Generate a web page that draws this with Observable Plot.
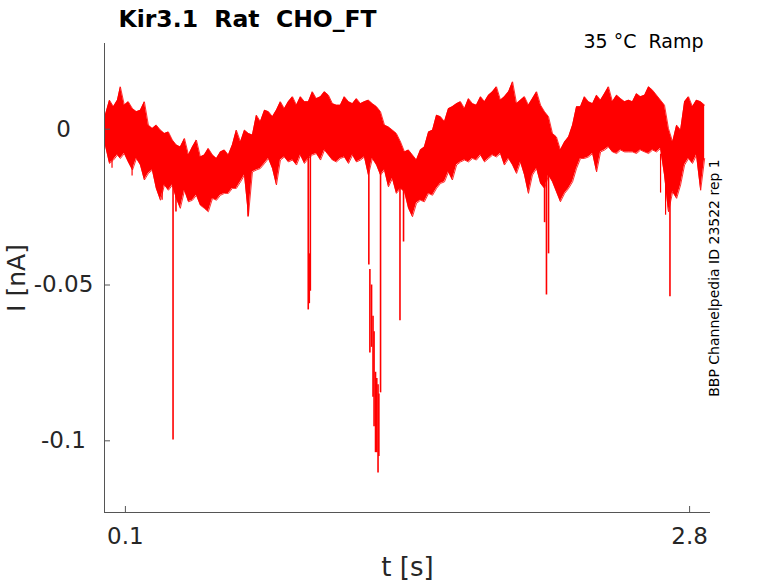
<!DOCTYPE html>
<html><head><meta charset="utf-8">
<script src="https://cdn.jsdelivr.net/npm/d3@7"></script>
<script src="https://cdn.jsdelivr.net/npm/@observablehq/plot@0.6"></script>
<style>body{margin:0;background:#fff} svg text{white-space:pre}</style>
</head><body><div id="chart"></div>
<script>
// Envelope of the noisy current trace, read every ~4 px (t in s, current in nA)
const t = [0.004,0.024,0.043,0.062,0.076,0.095,0.114,0.134,0.153,0.172,0.191,0.210,0.229,0.248,0.268,0.287,0.306,0.325,0.344,0.363,
  0.383,0.402,0.421,0.440,0.459,0.478,0.497,0.517,0.536,0.555,0.574,0.593,0.612,0.631,0.651,0.670,0.689,0.708,0.727,0.746,
  0.766,0.785,0.804,0.823,0.842,0.861,0.880,0.900,0.919,0.938,0.957,
  0.976,0.995,1.014,1.034,1.053,1.072,1.091,1.110,1.129,1.148,1.168,1.187,1.206,1.225,1.244,1.263,1.282,1.302,1.321,1.340,
  1.359,1.378,1.397,1.417,1.436,1.455,1.474,1.493,1.512,1.531,1.551,1.570,1.589,1.608,1.627,1.646,1.665,1.685,1.704,1.723,
  1.742,1.761,1.780,1.800,1.819,1.838,1.857,1.876,1.895,1.914,
  1.934,1.953,1.972,1.991,2.010,2.029,2.048,2.068,2.087,2.106,2.125,2.144,2.163,2.182,2.202,2.221,2.240,2.259,2.278,2.297,
  2.316,2.336,2.355,2.374,2.393,2.412,2.431,2.451,2.470,2.489,2.508,2.527,2.546,2.565,2.585,2.604,2.623,2.642,2.661,2.680,
  2.699,2.719,2.738,2.757,2.776,2.795,2.814,2.833,2.853,2.872];
const upperEdge = [0.0045,0.0093,0.0072,0.0093,0.0136,0.0077,0.0088,0.0066,0.0056,0.0061,0.0088,0.0013,0.0002,0.0013,-0.0003,-0.0014,-0.0009,-0.0035,-0.0051,-0.0057,
  -0.0030,-0.0083,-0.0057,-0.0035,-0.0089,-0.0083,-0.0062,-0.0083,-0.0094,-0.0073,-0.0067,-0.0083,-0.0051,-0.0003,-0.0041,-0.0003,-0.0014,-0.0019,0.0045,0.0024,
  0.0061,0.0056,0.0040,0.0061,0.0088,0.0066,0.0088,0.0104,0.0077,0.0104,0.0088,
  0.0088,0.0120,0.0098,0.0104,0.0120,0.0109,0.0082,0.0077,0.0077,0.0104,0.0088,0.0082,0.0098,0.0082,0.0088,0.0093,0.0082,0.0072,0.0056,0.0013,
  0.0007,-0.0003,-0.0014,-0.0041,-0.0073,-0.0067,-0.0083,-0.0099,-0.0067,-0.0057,-0.0009,-0.0003,0.0045,0.0040,0.0024,0.0066,0.0072,0.0082,0.0088,0.0066,
  0.0098,0.0082,0.0077,0.0104,0.0088,0.0109,0.0120,0.0136,0.0093,0.0104,
  0.0120,0.0152,0.0082,0.0093,0.0104,0.0077,0.0098,0.0120,0.0077,0.0056,0.0040,-0.0014,-0.0025,-0.0067,-0.0041,-0.0025,0.0013,0.0072,0.0072,0.0104,
  0.0088,0.0082,0.0109,0.0093,0.0114,0.0136,0.0088,0.0109,0.0098,0.0088,0.0093,0.0088,0.0114,0.0104,0.0109,0.0136,0.0125,0.0109,0.0093,0.0077,
  0.0002,-0.0041,0.0013,-0.0003,0.0088,0.0104,0.0072,0.0093,0.0088,0.0077];
const lowerEdge = [-0.0051,-0.0110,-0.0099,-0.0083,-0.0094,-0.0078,-0.0105,-0.0131,-0.0094,-0.0115,-0.0163,-0.0142,-0.0131,-0.0190,-0.0228,-0.0179,-0.0196,-0.0179,-0.0222,-0.0254,
  -0.0196,-0.0233,-0.0228,-0.0212,-0.0244,-0.0254,-0.0265,-0.0222,-0.0228,-0.0212,-0.0206,-0.0206,-0.0190,-0.0190,-0.0169,-0.0147,-0.0276,-0.0137,-0.0131,-0.0126,
  -0.0110,-0.0094,-0.0126,-0.0179,-0.0099,-0.0089,-0.0105,-0.0099,-0.0115,-0.0083,-0.0110,
  -0.0094,-0.0083,-0.0078,-0.0099,-0.0067,-0.0083,-0.0099,-0.0105,-0.0094,-0.0089,-0.0110,-0.0083,-0.0105,-0.0099,-0.0089,-0.0147,-0.0094,-0.0115,-0.0147,-0.0131,
  -0.0185,-0.0158,-0.0206,-0.0190,-0.0201,-0.0254,-0.0281,-0.0238,-0.0228,-0.0233,-0.0206,-0.0212,-0.0190,-0.0174,-0.0169,-0.0137,-0.0163,-0.0115,-0.0105,-0.0099,
  -0.0105,-0.0094,-0.0099,-0.0083,-0.0105,-0.0094,-0.0083,-0.0089,-0.0078,-0.0115,
  -0.0094,-0.0115,-0.0142,-0.0105,-0.0147,-0.0206,-0.0147,-0.0126,-0.0174,-0.0190,-0.0147,-0.0169,-0.0201,-0.0233,-0.0206,-0.0190,-0.0169,-0.0126,-0.0094,-0.0094,
  -0.0089,-0.0078,-0.0137,-0.0073,-0.0067,-0.0057,-0.0073,-0.0078,-0.0067,-0.0073,-0.0073,-0.0073,-0.0078,-0.0067,-0.0073,-0.0078,-0.0067,-0.0073,-0.0062,-0.0147,
  -0.0265,-0.0201,-0.0222,-0.0179,-0.0115,-0.0094,-0.0110,-0.0083,-0.0196,-0.0094];

// Isolated noise excursions beyond the band
const whiskerT    = [0.036,0.132,0.276,2.661,2.685];
const whiskerFrom = [-0.005,-0.008,-0.012,-0.008,-0.010];
const whiskerTo   = [-0.0125,-0.0150,-0.0228,-0.0205,-0.0276];

// Large inward current spikes
const spikeT    = [0.328,0.342,0.687,0.975,0.980,0.985,1.265,1.270,1.278,1.285,1.290,1.297,1.303,1.309,1.313,1.321,1.414,1.431,2.106,2.115,2.125,2.706];
const spikeFrom = [-0.010,-0.012,-0.012,-0.008,-0.040,-0.008,-0.010,-0.045,-0.050,-0.060,-0.065,-0.078,-0.080,-0.082,-0.085,-0.010,-0.010,-0.012,-0.012,-0.012,-0.012,-0.012];
const spikeTo   = [-0.0997,-0.0266,-0.0282,-0.0580,-0.0560,-0.0520,-0.0436,-0.0718,-0.0700,-0.0860,-0.0955,-0.1038,-0.1038,-0.1103,-0.1050,-0.0846,-0.0615,-0.0362,-0.0300,-0.0532,-0.0400,-0.0538];

const xTicks = [0.1, 2.8];
const yTicks = [0, -0.05, -0.1];
const xDomain = [0, 2.9];
const yDomain = [-0.123, 0.0275];
const title = "Kir3.1  Rat  CHO_FT";
const subtitle = "35 °C  Ramp";
const sideNote = "BBP Channelpedia ID 23522 rep 1";
const xLabel = "t [s]";
const yLabel = "I [nA]";

const band = t.map((d, i) => ({t: d, hi: upperEdge[i], lo: lowerEdge[i]}));
const whiskers = whiskerT.map((d, i) => ({t: d, a: whiskerFrom[i], b: whiskerTo[i]}));
const spikes = spikeT.map((d, i) => ({t: d, a: spikeFrom[i], b: spikeTo[i]}));

const W = 778, H = 583, mL = 104, mR = 68, mT = 43, mB = 71;
const plotW = W - mL - mR, plotH = H - mT - mB;
const ink = "#262626", axisInk = "#555555", red = "#ff0000";

const chart = Plot.plot({
  width: W, height: H,
  marginLeft: mL, marginRight: mR, marginTop: mT, marginBottom: mB,
  x: {domain: xDomain, axis: null},
  y: {domain: yDomain, axis: null},
  style: {fontFamily: "DejaVu Sans", background: "white", color: ink},
  marks: [
    Plot.areaY(band, {x: "t", y1: "lo", y2: "hi", fill: red}),
    Plot.line(band, {x: "t", y: "hi", stroke: red, strokeWidth: 0.8}),
    Plot.line(band, {x: "t", y: "lo", stroke: red, strokeWidth: 0.8}),
    Plot.ruleX(whiskers, {x: "t", y1: "a", y2: "b", stroke: red, strokeWidth: 1.2}),
    Plot.ruleX(spikes, {x: "t", y1: "a", y2: "b", stroke: red, strokeWidth: 1.6}),
    // axis lines
    Plot.ruleX([xDomain[0]], {stroke: axisInk, strokeWidth: 1}),
    Plot.ruleY([yDomain[0]], {stroke: axisInk, strokeWidth: 1}),
    // inward ticks
    Plot.ruleX(xTicks, {insetTop: plotH - 6, stroke: axisInk}),
    Plot.ruleY(yTicks, {insetRight: plotW - 6, stroke: axisInk}),
    // tick labels
    Plot.text(xTicks, {x: d => d, frameAnchor: "bottom", lineAnchor: "middle", dy: 24, text: d => String(d), fontSize: 23, fill: ink}),
    Plot.text(yTicks, {y: d => d, frameAnchor: "left", lineAnchor: "middle", dx: -41, textAnchor: "middle", text: d => String(d), fontSize: 23, fill: ink}),
    // axis labels
    Plot.text([xLabel], {frameAnchor: "bottom", lineAnchor: "middle", textAnchor: "middle", dy: 55, text: d => d, fontSize: 26, fill: ink}),
    Plot.text([yLabel], {frameAnchor: "left", lineAnchor: "middle", textAnchor: "middle", dx: -88, rotate: -90, text: d => d, fontSize: 25, fill: ink}),
    // title and annotations
    Plot.text([title], {frameAnchor: "top-left", lineAnchor: "middle", dx: 14, dy: -24.5, textAnchor: "start", text: d => d, fontSize: 23.5, fontWeight: "bold", fill: "#000"}),
    Plot.text([subtitle], {frameAnchor: "top-right", lineAnchor: "middle", dx: -7, dy: -2, textAnchor: "end", text: d => d, fontSize: 19, fill: "#000"}),
    Plot.text([sideNote], {frameAnchor: "right", lineAnchor: "middle", textAnchor: "middle", dx: 4, rotate: -90, text: d => d, fontSize: 14, fill: "#000"})
  ]
});
document.getElementById("chart").appendChild(chart);
</script>
</body></html>
